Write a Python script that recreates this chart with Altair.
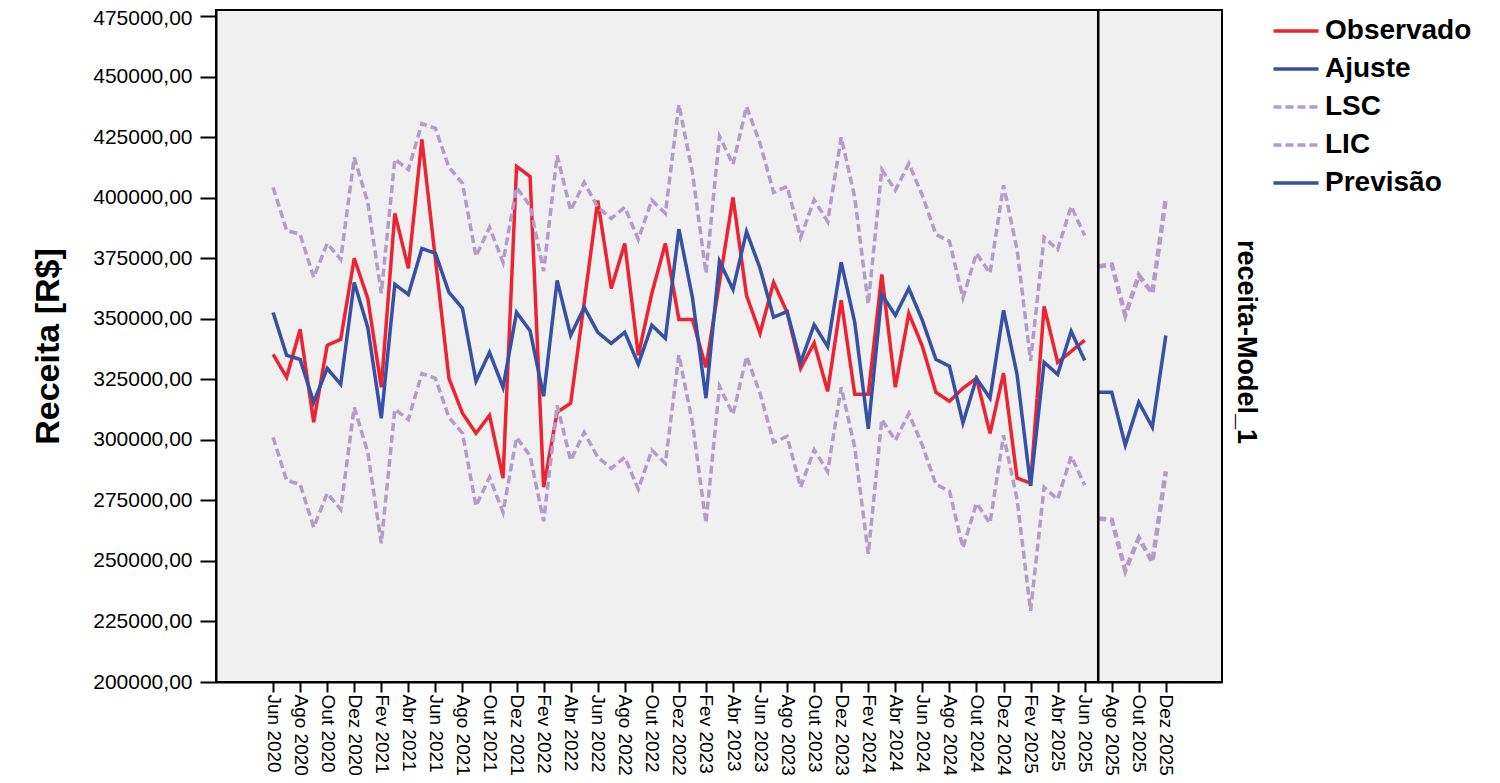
import json
import altair as alt
import pandas as pd

# ---- data ----
meses = ["Jan", "Fev", "Mar", "Abr", "Mai", "Jun", "Jul", "Ago", "Set", "Out", "Nov", "Dez"]
month_labels = [f"{meses[(5 + k) % 12]} {2020 + (5 + k) // 12}" for k in range(67)]  # Jun 2020 .. Dez 2025

tick_labels = ["Jun 2020", "Ago 2020", "Out 2020", "Dez 2020", "Fev 2021", "Abr 2021", "Jun 2021",
               "Ago 2021", "Out 2021", "Dez 2021", "Fev 2022", "Abr 2022", "Jun 2022", "Ago 2022",
               "Out 2022", "Dez 2022", "Fev 2023", "Abr 2023", "Jun 2023", "Ago 2023", "Out 2023",
               "Dez 2023", "Fev 2024", "Abr 2024", "Jun 2024", "Ago 2024", "Out 2024", "Dez 2024",
               "Fev 2025", "Abr 2025", "Jun 2025", "Ago 2025", "Out 2025", "Dez 2025"]

observado = [335300, 325800, 345600, 307300, 339000, 341500, 374900, 358400, 321700, 393500,
             370800, 424000, 374500, 325400, 311000, 302700, 310100, 284200, 412900, 408700,
             280400, 311400, 315100, 356700, 398800, 362500, 381100, 334900, 360500, 381100,
             349700, 349700, 329900, 365000, 400100, 359600, 344000, 365000, 352600, 329500,
             340000, 320000, 357600, 318800, 318800, 368300, 321700, 352200, 338600, 319600,
             315900, 321300, 325400, 302700, 327500, 284200, 282100, 355100, 332000, 336500,
             341100]

ajuste = [352600, 334900, 333200, 315500, 329500, 322900, 365000, 346400, 308900, 364200,
          360000, 379000, 377000, 360900, 354300, 324200, 336100, 321700, 352600, 345000,
          318000, 365800, 343100, 354700, 344400, 339800, 344400, 331200, 347300, 341900,
          387000, 358800, 317200, 373700, 362100, 386000, 370800, 350600, 353000, 332000,
          347500, 338500, 373300, 348500, 304500, 360000, 351400, 362500, 349300, 333200,
          330400, 307000, 325400, 317200, 353500, 327000, 281000, 332000, 327000, 344800,
          332800]

lsc = [404200, 386500, 384800, 367100, 381100, 374500, 416600, 398000, 360500, 415800,
       411600, 430600, 428600, 412500, 405900, 375800, 387700, 373300, 404200, 396600,
       369600, 417400, 394700, 406300, 396000, 391400, 396000, 382800, 398900, 393500,
       438400, 410400, 368800, 425300, 413700, 437600, 422400, 402200, 404600, 383600,
       399100, 390100, 424900, 400100, 356000, 411600, 403000, 414100, 400900, 384800,
       382000, 358600, 377000, 368800, 405100, 378600, 332600, 383600, 378600, 396400,
       384400]

lic = [301000, 283300, 281600, 263900, 277900, 271300, 313400, 294800, 257300, 312600,
       308400, 327400, 325400, 309300, 302700, 272600, 284500, 270100, 301000, 293400,
       266400, 314200, 291500, 303100, 292800, 288200, 292800, 279600, 295700, 290300,
       335000, 307200, 265600, 322100, 310500, 334400, 319200, 299000, 301400, 280400,
       295900, 286900, 321700, 296900, 252900, 308400, 299800, 310900, 297700, 281600,
       278800, 255400, 273800, 265600, 301900, 275400, 229400, 280400, 275400, 293200,
       281200]

previsao = [319600, 319600, 297800, 315500, 305200, 343100]
lsc_prev = [371600, 372400, 351400, 367900, 360500, 399700]
lic_prev = [267500, 267000, 246000, 259500, 249500, 287000]

series_names = ["Observado", "Ajuste", "LSC", "LIC", "Previsão"]
series_colors = ["#EC2330", "#3550A5", "#B39BCB", "#B39BCB", "#3550A5"]

# ---- tables ----
N_OBS = len(observado)

rows = []
for name, grp, start, vals in [
    ("Observado", "obs", 0, observado),
    ("Ajuste", "fit", 0, ajuste),
    ("LSC", "lsc", 0, lsc),
    ("LIC", "lic", 0, lic),
    ("Previsão", "prev", N_OBS, previsao),
]:
    for k, v in enumerate(vals):
        rows.append({"idx": start + k, "month": month_labels[start + k], "value": v,
                     "series": name, "grp": grp})
df_main = pd.DataFrame(rows)

rows_fc = []
for name, grp, vals in [("LSC", "lsc_f", lsc_prev), ("LIC", "lic_f", lic_prev)]:
    for k, v in enumerate(vals):
        rows_fc.append({"idx": N_OBS + k, "month": month_labels[N_OBS + k], "value": v,
                        "series": name, "grp": grp})
df_fc = pd.DataFrame(rows_fc)

FONT = "Liberation Sans"
W, H = 1006, 672

tick_idx = [month_labels.index(t) for t in tick_labels]
label_expr = json.dumps(tick_labels, ensure_ascii=False) + "[round(datum.value / 2)]"

x_enc = alt.X("idx:Q",
              scale=alt.Scale(domain=[-4.22, 70.15], nice=False, zero=False),
              axis=alt.Axis(values=tick_idx, tickCount=80, labelExpr=label_expr, labelAngle=90,
                            title=None, labelFontSize=19, tickSize=10, tickWidth=2,
                            labelPadding=2, domainWidth=2, labelFont=FONT, labelColor="black",
                            tickColor="black", domainColor="black", labelOverlap=False,
                            grid=False, labelBound=False, labelFlush=False))

y_enc = alt.Y("value:Q",
              scale=alt.Scale(domain=[200000, 477470], nice=False, zero=False),
              axis=alt.Axis(values=list(range(200000, 475001, 25000)), tickCount=20,
                            labelExpr="format(datum.value, 'd') + ',00'",
                            labelOffset={"condition": {"test": "datum.value >= 475000", "value": 3},
                                         "value": 0},
                            title="Receita [R$]", titleFontSize=34, titleFontWeight="bold",
                            titleFont=FONT, titleColor="black", titlePadding=27,
                            labelFontSize=21, labelFont=FONT, labelColor="black",
                            grid=False, tickSize=16, tickWidth=2, labelPadding=8,
                            domainWidth=2, domainColor="black", tickColor="black"))

color_enc = alt.Color("series:N",
                      scale=alt.Scale(domain=series_names, range=series_colors),
                      sort=series_names,
                      legend=alt.Legend(title=None, orient="none", legendX=1063, legendY=4,
                                        labelFontSize=28, labelFont=FONT, labelFontWeight="bold",
                                        labelColor="black", symbolType="M-1.5,0H1.5",
                                        symbolSize=900, rowPadding=7, labelOffset=12))
dash_scale = alt.Scale(domain=series_names, range=[[1, 0], [1, 0], [8, 4], [8, 4], [1, 0]])
dash_enc = alt.StrokeDash("series:N", scale=dash_scale, sort=series_names, legend=None)
width_enc = alt.StrokeWidth("series:N",
                            scale=alt.Scale(domain=series_names, range=[3.5, 3.5, 2.2, 2.2, 4]),
                            sort=series_names, legend=None)

lines_main = alt.Chart(df_main).mark_line().encode(
    x=x_enc, y=y_enc, color=color_enc, strokeDash=dash_enc, strokeWidth=width_enc,
    detail="grp:N", order=alt.Order("idx:Q")
)

lines_fc = alt.Chart(df_fc).mark_line(strokeWidth=4.5).encode(
    x=x_enc, y=y_enc, color=color_enc,
    strokeDash=alt.StrokeDash("series:N", scale=dash_scale, sort=series_names, legend=None),
    detail="grp:N", order=alt.Order("idx:Q")
)

sep = alt.Chart(pd.DataFrame({"idx": [N_OBS]})).mark_rule(
    color="black", strokeWidth=2.5
).encode(x=alt.X("idx:Q"))

side_label = alt.Chart(pd.DataFrame({"t": ["receita-Model_1"]})).mark_text(
    angle=90, fontSize=27, fontWeight="bold", font=FONT, color="black",
    align="center", baseline="middle"
).encode(x=alt.value(W + 24), y=alt.value(332), text="t:N")

chart = alt.layer(lines_fc, lines_main, sep, side_label).properties(
    width=W, height=H,
    padding={"left": 208, "top": 2, "right": 270, "bottom": 93},
    autosize=alt.AutoSizeParams(type="none"),
    background="white",
).configure_view(
    fill="#F0F0F0", stroke="black", strokeWidth=2
)

chart.save("out.html", embed_options={"renderer": "svg", "actions": False})
